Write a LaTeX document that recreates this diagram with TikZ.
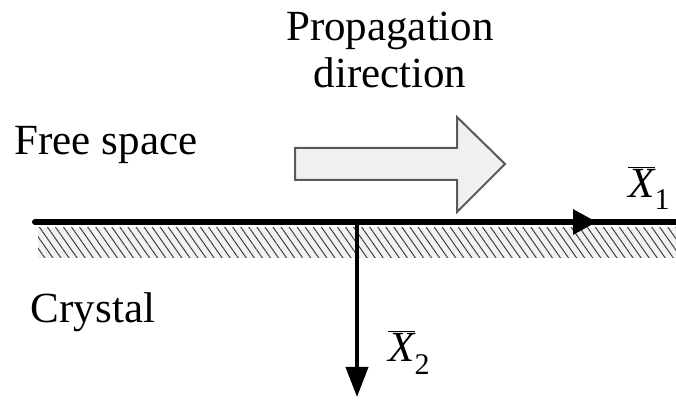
\documentclass[tikz,border=0pt]{standalone}
\usepackage{fontspec}
\setmainfont{Liberation Serif}
\usetikzlibrary{arrows.meta,patterns.meta}

\tikzset{
  lbl/.style={font=\fontsize{21.5}{23.5}\selectfont, inner sep=0pt},
  blockarrow/.style={fill=gray!12, draw=black!65, line width=1pt, line join=miter},
}

\begin{document}
\begin{tikzpicture}[x=0.5pt,y=-0.5pt]
  \useasboundingbox (0,0) rectangle (676,401);
  % crystal surface
  \fill[gray!10] (38,228) rectangle (676,258);
  \fill[pattern={Lines[angle=-55,distance=3.3pt,line width=0.5pt]},pattern color=black!75] (38,228) rectangle (676,258);
  \coordinate (axisL) at (35,222);
  \coordinate (axisTip) at (597,222);
  \coordinate (axisR) at (676,222);
  \coordinate (origin) at (357,222);
  \coordinate (downTip) at (357,397);
  \draw[line width=3pt, line cap=round] (axisL) -- (axisR);
  \draw[line width=3pt, -{Triangle[length=12pt,width=12pt]}] (origin) -- (axisTip);
  \draw[line width=2pt, -{Triangle[length=15pt,width=11pt]}] (origin) -- (downTip);
  % propagation arrow
  \draw[blockarrow] (295,148) -- (457,148) -- (457,117) -- (505,164) -- (457,212) -- (457,180) -- (295,180) -- cycle;
  \node[lbl, align=center] (prop) at (390,50) {Propagation\\direction};
  \node[lbl] (free) at (106,145) {Free space};
  \node[lbl] (crys) at (93,312) {Crystal};
  \node[lbl, anchor=base west] (xone) at (628,198) {$\overline{\mbox{\itshape X}}$\raisebox{-6pt}{\fontsize{15}{15}\selectfont 1}};
  \node[lbl, anchor=base west] (xtwo) at (388,362) {$\overline{\mbox{\itshape X}}$\raisebox{-6pt}{\fontsize{15}{15}\selectfont 2}};
\end{tikzpicture}
\end{document}
